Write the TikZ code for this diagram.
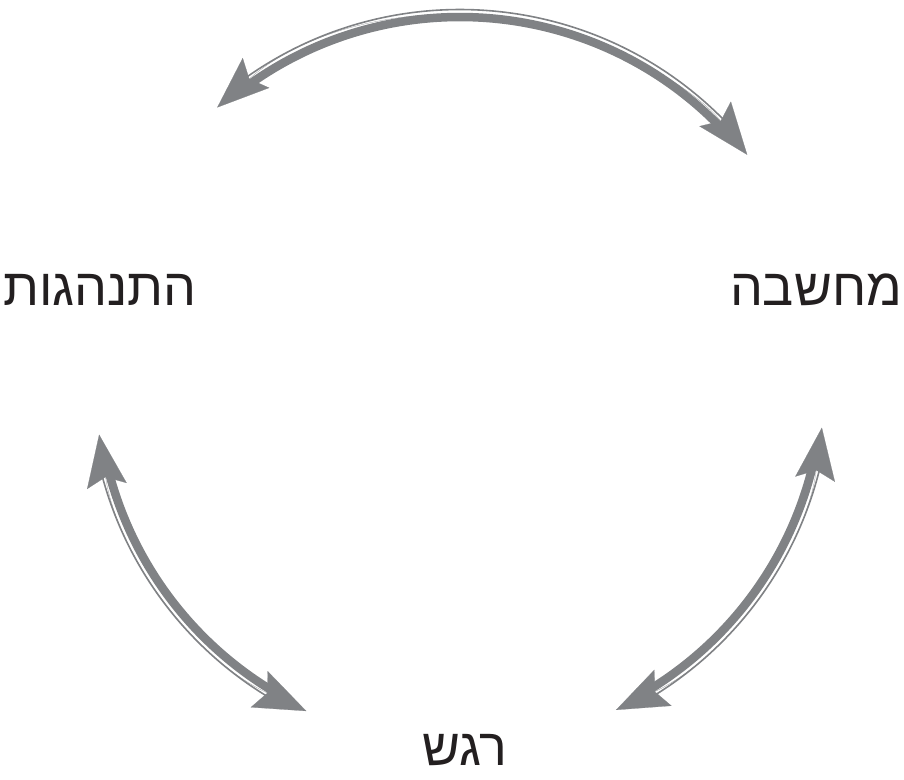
\documentclass[tikz,border=0pt]{standalone}
\usepackage{fontspec}
\TeXXeTstate=1
\newfontfamily\hebfont[Script=Hebrew]{Liberation Sans}
\usetikzlibrary{arrows.meta}
\definecolor{arrgray}{RGB}{128,130,133}
\definecolor{txtblack}{RGB}{35,31,32}
\tikzset{
  lbl/.style={font=\hebfont\fontsize{52}{60}\selectfont, text=txtblack, inner sep=0pt},
  band/.style={draw=arrgray, line width=8.5pt},
  rim/.style={draw=arrgray, line width=1.6pt},
  heads/.style={draw=arrgray, line width=0.2pt,
    {Stealth[length=52pt,width=40pt,inset=9pt]}-{Stealth[length=52pt,width=40pt,inset=9pt]}},
}
\begin{document}
\begin{tikzpicture}[x=1pt,y=1pt]
\useasboundingbox (0,0) rectangle (904,-779);
\coordinate (O) at (460,-380);

\node[lbl] (beh) at (100,-290) {\beginR התנהגות\endR};
\node[lbl] (tho) at (816,-290) {\beginR מחשבה\endR};
\node[lbl] (emo) at (465,-750) {\beginR רגש\endR};

% tip coordinates
\coordinate (tA) at ([shift={(131.7:365pt)}]O);
\coordinate (tB) at ([shift={(188.6:365pt)}]O);
\coordinate (tC) at ([shift={(-7.5:365pt)}]O);

% band / rim start points
\coordinate (bA) at ([shift={(126.2:363pt)}]O);
\coordinate (rA) at ([shift={(125.5:370.5pt)}]O);
\coordinate (bB) at ([shift={(194.1:363pt)}]O);
\coordinate (rB) at ([shift={(194.8:370.5pt)}]O);
\coordinate (bC) at ([shift={(-13.0:363pt)}]O);
\coordinate (rC) at ([shift={(-13.7:370.5pt)}]O);

% top arrow (behaviour <-> thought)
\draw[rim] (rA) arc[start angle=125.5, end angle=44.3, radius=370.5pt];
\draw[band] (bA) arc[start angle=126.2, end angle=43.6, radius=363pt];
\draw[heads] (tA) arc[start angle=131.7, end angle=38.1, radius=365pt];

% left arrow (behaviour <-> emotion)
\draw[rim] (rB) arc[start angle=194.8, end angle=238.9, radius=370.5pt];
\draw[band] (bB) arc[start angle=194.1, end angle=239.6, radius=363pt];
\draw[heads] (tB) arc[start angle=188.6, end angle=245.1, radius=365pt];

% right arrow (thought <-> emotion)
\draw[rim] (rC) arc[start angle=-13.7, end angle=-58.5, radius=370.5pt];
\draw[band] (bC) arc[start angle=-13.0, end angle=-59.2, radius=363pt];
\draw[heads] (tC) arc[start angle=-7.5, end angle=-64.7, radius=365pt];
\end{tikzpicture}
\end{document}
